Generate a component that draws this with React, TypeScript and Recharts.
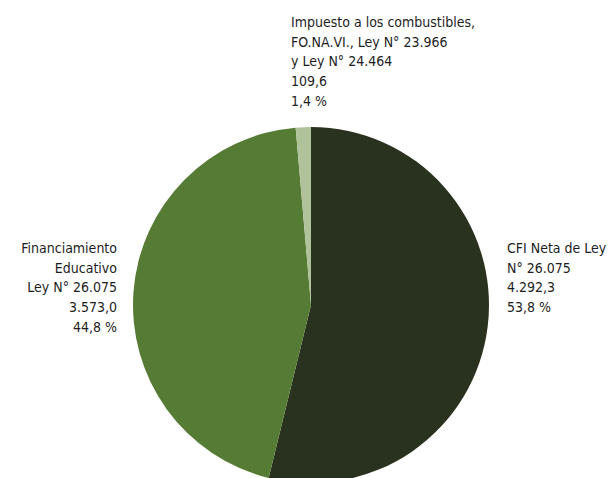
import React from 'react';
import { PieChart, Pie, Cell } from 'recharts';

// Slices in clockwise order starting at 12 o'clock
const names = ['CFI Neta de Ley N° 26.075', 'Financiamiento Educativo Ley N° 26.075', 'Impuesto a los combustibles'];
const values = [4292.3, 3573.0, 109.6];
const valueLabels = ['4.292,3', '3.573,0', '109,6'];
const percentLabels = ['53,8 %', '44,8 %', '1,4 %'];
const titleLines = [
  ['CFI Neta de Ley', 'N° 26.075'],
  ['Financiamiento', 'Educativo', 'Ley N° 26.075'],
  ['Impuesto a los combustibles,', 'FO.NA.VI., Ley N° 23.966', 'y Ley N° 24.464'],
];
const COLORS = ['#29321e', '#557b34', '#b0c29a'];

const data = names.map((name, i) => ({ name, value: values[i] }));

const LINE_H = 19.7;

const renderLabel = (props: any) => {
  const { cx, cy, index } = props;
  const lines = [...titleLines[index], valueLabels[index], percentLabels[index]];
  let x = cx;
  let y = cy;
  let anchor: 'start' | 'end' = 'start';
  if (index === 0) {
    x = cx + 196;
    y = cy - 52;
  } else if (index === 1) {
    x = cx - 194;
    y = cy - 52;
    anchor = 'end';
  } else {
    x = cx - 20;
    y = cy - 278;
  }
  return (
    <text
      x={x}
      y={y}
      textAnchor={anchor}
      fill="#1e1e1e"
      fontSize={14}
      fontFamily="'DejaVu Sans Condensed', 'DejaVu Sans', sans-serif"
    >
      {lines.map((l, i) => (
        <tspan key={i} x={x} dy={i === 0 ? 0 : LINE_H}>
          {l}
        </tspan>
      ))}
    </text>
  );
};

export default function App() {
  return (
    <div style={{ position: 'absolute', left: 0, top: 0, width: 614, height: 478, background: '#fff' }}>
      <PieChart width={614} height={478}>
        <Pie
          data={data}
          dataKey="value"
          cx={306}
          cy={300}
          outerRadius={178}
          startAngle={90}
          endAngle={-270}
          stroke="none"
          label={renderLabel}
          labelLine={false}
          isAnimationActive={false}
        >
          {data.map((d, i) => (
            <Cell key={d.name} fill={COLORS[i]} />
          ))}
        </Pie>
      </PieChart>
    </div>
  );
}
